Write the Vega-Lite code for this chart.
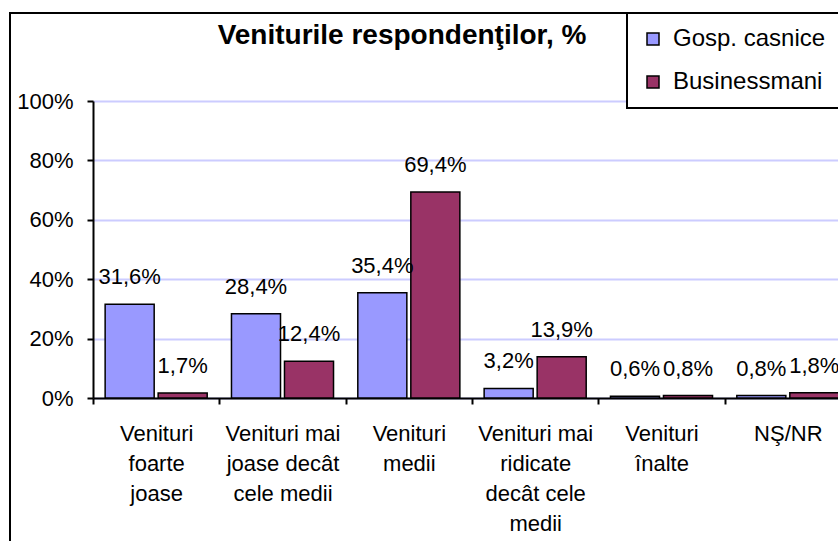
{
  "$schema": "https://vega.github.io/schema/vega-lite/v6.json",
  "width": 828,
  "height": 528,
  "autosize": {"type": "none"},
  "padding": {"left": 10, "top": 13, "right": 0, "bottom": 0},
  "background": "white",
  "config": {
    "locale": {"number": {"decimal": ",", "thousands": ".", "grouping": [3], "currency": ["", ""]}},
    "view": {"stroke": "black", "strokeWidth": 2, "strokeDash": [828, 1356, 528, 10]},
    "font": "Liberation Sans",
    "legend": {"strokeWidth": 2, "strokeColor": "black", "fillColor": "white"}
  },
  "title": {
    "text": "Veniturile respondenţilor, %",
    "font": "Liberation Sans",
    "fontSize": 28,
    "fontWeight": "bold",
    "color": "black",
    "anchor": "middle",
    "frame": "group",
    "baseline": "alphabetic",
    "offset": -60,
    "dx": -22
  },
  "data": {
    "values": [
      {"cat": "Venituri foarte joase", "series": "Gosp. casnice", "value": 0.316},
      {"cat": "Venituri foarte joase", "series": "Businessmani", "value": 0.017},
      {"cat": "Venituri mai joase decât cele medii", "series": "Gosp. casnice", "value": 0.284},
      {"cat": "Venituri mai joase decât cele medii", "series": "Businessmani", "value": 0.124},
      {"cat": "Venituri medii", "series": "Gosp. casnice", "value": 0.354},
      {"cat": "Venituri medii", "series": "Businessmani", "value": 0.694},
      {"cat": "Venituri mai ridicate decât cele medii", "series": "Gosp. casnice", "value": 0.032},
      {"cat": "Venituri mai ridicate decât cele medii", "series": "Businessmani", "value": 0.139},
      {"cat": "Venituri înalte", "series": "Gosp. casnice", "value": 0.006},
      {"cat": "Venituri înalte", "series": "Businessmani", "value": 0.008},
      {"cat": "NŞ/NR", "series": "Gosp. casnice", "value": 0.008},
      {"cat": "NŞ/NR", "series": "Businessmani", "value": 0.018}
    ]
  },
  "encoding": {
    "x": {
      "field": "cat",
      "type": "nominal",
      "sort": ["Venituri foarte joase", "Venituri mai joase decât cele medii", "Venituri medii", "Venituri mai ridicate decât cele medii", "Venituri înalte", "NŞ/NR"],
      "scale": {"range": [83, 841], "paddingInner": 0, "paddingOuter": 0},
      "axis": {
        "title": null,
        "orient": "bottom",
        "offset": -143,
        "tickBand": "extent",
        "tickSize": 6,
        "tickWidth": 2,
        "tickColor": "black",
        "domainColor": "black",
        "domainWidth": 2,
        "labelAngle": 0,
        "labelAlign": "center",
        "labelBaseline": "top",
        "labelPadding": 19,
        "labelFont": "Liberation Sans",
        "labelFontSize": 22,
        "labelColor": "black",
        "labelLineHeight": 30,
        "labelLimit": 300,
        "grid": false,
        "labelExpr": "datum.label == 'Venituri foarte joase' ? ['Venituri', 'foarte', 'joase'] : datum.label == 'Venituri mai joase decât cele medii' ? ['Venituri mai', 'joase decât', 'cele medii'] : datum.label == 'Venituri medii' ? ['Venituri', 'medii'] : datum.label == 'Venituri mai ridicate decât cele medii' ? ['Venituri mai', 'ridicate', 'decât cele', 'medii'] : datum.label == 'Venituri înalte' ? ['Venituri', 'înalte'] : datum.label"
      }
    },
    "xOffset": {
      "field": "series",
      "type": "nominal",
      "sort": ["Gosp. casnice", "Businessmani"],
      "scale": {"paddingInner": 0.075, "paddingOuter": 0.229}
    },
    "y": {
      "field": "value",
      "type": "quantitative",
      "scale": {"domain": [0, 1], "range": [385, 88], "nice": false},
      "axis": {
        "title": null,
        "orient": "left",
        "offset": -83,
        "values": [0, 0.2, 0.4, 0.6, 0.8, 1],
        "format": ".0%",
        "tickSize": 6,
        "tickWidth": 2,
        "tickColor": "black",
        "domainColor": "black",
        "domainWidth": 2,
        "grid": true,
        "gridColor": "#CCCCFF",
        "gridWidth": 2,
        "labelFont": "Liberation Sans",
        "labelFontSize": 22,
        "labelColor": "black",
        "labelPadding": 14
      }
    }
  },
  "layer": [
    {
      "mark": {"type": "bar", "stroke": "black", "strokeWidth": 1.5},
      "encoding": {
        "color": {
          "field": "series",
          "type": "nominal",
          "sort": ["Gosp. casnice", "Businessmani"],
          "scale": {"domain": ["Gosp. casnice", "Businessmani"], "range": ["#9999FF", "#993366"]},
          "legend": {
            "orient": "none",
            "legendX": 617,
            "legendY": 0,
            "title": null,
            "fillColor": "white",
            "strokeColor": "black",
            "padding": 14,
            "rowPadding": 19,
            "symbolType": "square",
            "symbolSize": 144,
            "symbolStrokeColor": "black",
            "symbolStrokeWidth": 1.5,
            "labelFont": "Liberation Sans",
            "labelFontSize": 24,
            "labelColor": "black",
            "labelOffset": 8,
            "labelLimit": 400
          }
        }
      }
    },
    {
      "mark": {"type": "text", "baseline": "alphabetic", "dy": -20, "fontSize": 22, "font": "Liberation Sans", "color": "black"},
      "encoding": {
        "text": {"field": "value", "type": "quantitative", "format": ".1%"}
      }
    }
  ]
}
